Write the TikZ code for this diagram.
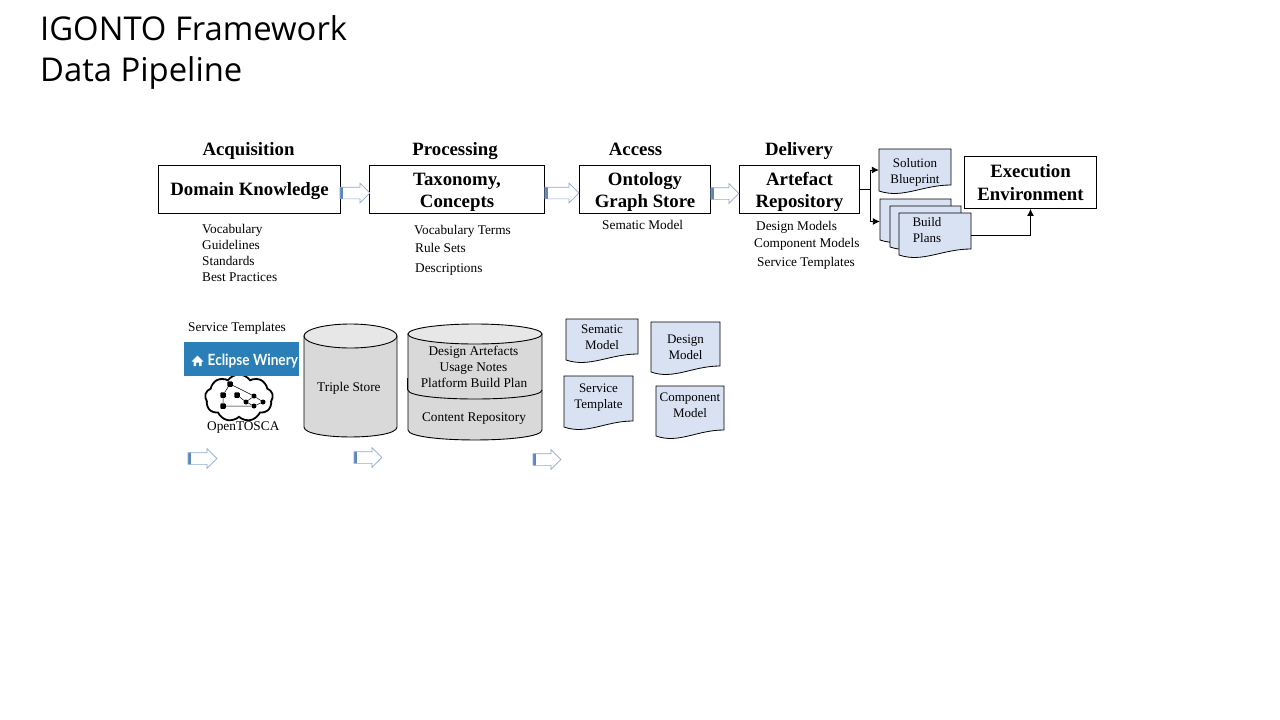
\documentclass[tikz,border=0pt]{standalone}
\usepackage{fontspec}
\setmainfont{Liberation Serif}
\newfontfamily\titlefont{Open Sans}
\newfontfamily\wineryfont{Lato}
\usetikzlibrary{shapes.arrows,shapes.symbols,arrows.meta}
\definecolor{docblue}{HTML}{D9E2F3}
\definecolor{arrowblue}{HTML}{5B87BF}
\definecolor{edgeblue}{HTML}{8FAACC}
\definecolor{storegray}{HTML}{D9D9D9}
\definecolor{storetop}{HTML}{E7E7E7}
\definecolor{winery}{HTML}{2A7FB8}
\tikzset{
  headtext/.style={anchor=base,inner sep=0pt,font=\fontsize{18.8}{22}\selectfont\bfseries},
  boxnode/.style={draw,line width=0.9pt,align=center,inner sep=0pt,font=\fontsize{18.8}{22.5}\selectfont\bfseries},
  notetext/.style={anchor=base west,inner sep=0pt,font=\fontsize{13.3}{16}\selectfont},
  storetext/.style={anchor=base,inner sep=0pt,font=\fontsize{13.3}{16}\selectfont},
  doctext/.style={align=center,inner sep=0pt,font=\fontsize{13}{16}\selectfont},
  blockarrow/.style={single arrow,draw=edgeblue,fill=white,line width=0.7pt,inner sep=0pt,
    text height=11pt,text depth=0pt,text width=0pt,
    minimum width=19pt,minimum height=30pt,single arrow head extend=4pt,single arrow head indent=0pt,
    path picture={\fill[arrowblue] (path picture bounding box.south west) rectangle ++(3.5pt,20pt);}},
  linkline/.style={line width=0.9pt,-{Latex[length=7pt,width=7pt]}},
  cloudsquare/.style={fill=black,rounded corners=1pt,minimum size=5.5pt,inner sep=0pt},
  clouddot/.style={circle,fill=black,minimum size=5pt,inner sep=0pt}
}
\newcommand{\toppad}{\rule{0pt}{18pt}}
% page with a wavy lower edge: text shift, name, left, top, width, height, text
\newcommand{\docpage}[7][]{
  \draw[fill=docblue,line width=0.8pt] (#3,#4) -- (#3+#5,#4) -- (#3+#5,#4+#6-6)
    .. controls (#3+0.6*#5,#4+#6-6) and (#3+0.33*#5,#4+#6+8) .. (#3,#4+#6) -- cycle;
  \node[minimum width=#5 pt,minimum height=#6 pt,inner sep=0pt] (#2) at (#3+0.5*#5,#4+0.5*#6) {};
  \node[doctext,#1] (#2label) at (#2) {#7};
}
% store: left, right, top centre, side end, flat radius
\newcommand{\storebody}[5]{
  \draw[fill=storegray,line width=0.9pt] (#1,#3) -- (#1,#4)
    .. controls (#1,#4+13.3) and (#2,#4+13.3) .. (#2,#4) -- (#2,#3) -- cycle;
  \draw[fill=storetop,line width=0.9pt] (#1/2+#2/2,#3) ellipse ({(#2-#1)/2} and #5);
}

\begin{document}
\begin{tikzpicture}[x=1pt,y=-1pt]
\useasboundingbox (0,0) rectangle (1280,720);

\node[anchor=west,inner sep=0pt,font=\titlefont\fontsize{32.8}{41}\selectfont,align=left] (title) at (40,52.5) {IGONTO Framework\\Data Pipeline};

% top row
\node[headtext] (acq) at (248.5,155) {Acquisition};
\node[headtext] (proc) at (455,155) {Processing};
\node[headtext] (acc) at (635.5,155) {Access};
\node[headtext] (deliv) at (799,155) {Delivery};

\node[boxnode,minimum width=182pt,minimum height=48pt] (domain) at (249.5,189) {\toppad Domain Knowledge};
\node[boxnode,minimum width=175pt,minimum height=48pt] (taxonomy) at (457,189.5) {\toppad Taxonomy,\\Concepts};
\node[boxnode,minimum width=131pt,minimum height=48pt] (ontology) at (645,189.5) {\toppad Ontology\\Graph Store};
\node[boxnode,minimum width=120pt,minimum height=48pt] (artefact) at (799.5,189.5) {\toppad Artefact\\Repository};
\node[boxnode,minimum width=132pt,minimum height=52pt] (exec) at (1030.5,182.5) {Execution\\Environment};

\node[blockarrow] (arrowa) at (352,193) {};
\node[blockarrow,minimum height=34pt] (arrowb) at (559,193) {};
\node[blockarrow,minimum height=28pt] (arrowc) at (722,193.5) {};

\node[notetext] (voc) at (202,233) {Vocabulary};
\node[notetext] (guide) at (202,249) {Guidelines};
\node[notetext] (stand) at (202,265) {Standards};
\node[notetext] (best) at (202,281) {Best Practices};
\node[notetext] (terms) at (414,234) {Vocabulary Terms};
\node[notetext] (rules) at (415,252) {Rule Sets};
\node[notetext] (descr) at (415,272) {Descriptions};
\node[notetext] (sem) at (602,229) {Sematic Model};
\node[notetext] (dmod) at (756,230) {Design Models};
\node[notetext] (cmod) at (754,247) {Component Models};
\node[notetext] (stemp) at (757,266) {Service Templates};

\docpage[yshift=-2pt]{blueprint}{879}{149}{72}{42}{Solution\\Blueprint}
\docpage{stacka}{880}{199}{71}{41}{}
\docpage{stackb}{890}{206}{71}{41}{}
\docpage[xshift=-8pt,yshift=4pt]{build}{899}{213}{72}{42}{Build\\Plans}

\coordinate (trunk) at (870,189.5);
\draw[line width=0.9pt] (artefact.east) -- (trunk);
\draw[linkline] (trunk) |- (blueprint.west);
\draw[linkline] (trunk) |- ([yshift=-2pt]stacka.west);
\draw[linkline] ([yshift=-1pt]build.east) -| (exec.south);

% bottom row
\node[notetext] (tmpl) at (188,331) {Service Templates};

\node[cloud,draw,line width=1.8pt,cloud puffs=9,cloud puff arc=110,aspect=1.6,minimum width=68pt,minimum height=47pt,inner sep=0pt] (cloudnet) at (239,398) {};
\node[cloudsquare] (sa) at (230,384) {};
\node[cloudsquare] (sb) at (223,395) {};
\node[cloudsquare] (sc) at (237,395) {};
\node[cloudsquare] (sd) at (223,406) {};
\node[clouddot] (da) at (246,402) {};
\node[clouddot] (db) at (254,396) {};
\node[clouddot] (dc) at (263,402) {};
\node[clouddot] (dd) at (254,406) {};
\draw[line width=0.5pt] (sa) -- (sb) -- (sd) -- (dd) -- (dc) -- (db) -- (da) -- (dd);
\draw[line width=0.5pt] (sa) -- (db);
\draw[line width=0.5pt] (sc) -- (da);

\node[fill=winery,minimum width=115pt,minimum height=34pt,inner sep=0pt] (banner) at (241.5,359) {};
\node[anchor=west,inner sep=0pt,text=white,font=\wineryfont\fontsize{15.5}{18}\selectfont\bfseries] (wname) at (207.5,361.5) {\scalebox{0.88}[1]{Eclipse Winery}};
\fill[white] (191.5,361.5) -- (197.5,355.5) -- (203.5,361.5) -- (201.5,361.5) -- (201.5,366) -- (199,366) -- (199,362.5) -- (196,362.5) -- (196,366) -- (193.5,366) -- (193.5,361.5) -- cycle;

\node[notetext] (tosca) at (207,430) {OpenTOSCA};

\storebody{304}{397}{336}{427}{12}
\node[notetext] (triple) at (317,391) {Triple Store};

\storebody{408}{542}{334}{430}{10}
\draw[line width=0.9pt] (408,390) .. controls (408,402) and (542,402) .. (542,390);
\draw[line width=1.4pt] (407.5,378) -- (407.5,390);
\node[storetext] (artefacts) at (473.5,355) {Design Artefacts};
\node[storetext] (usage) at (473.5,371) {Usage Notes};
\node[storetext] (platform) at (474,387) {Platform Build Plan};
\node[storetext] (content) at (474,421) {Content Repository};

\docpage[yshift=2pt]{sematic}{566}{319}{72}{41}{Sematic\\Model}
\docpage{design}{651}{322}{69}{50}{Design\\Model}
\docpage[yshift=4pt]{service}{564}{376}{69}{51}{Service\\Template}
\docpage[yshift=6pt]{component}{656}{386}{68}{50}{Component\\Model}

\node[blockarrow,minimum height=29pt] (arrowd) at (199.5,458.5) {};
\node[blockarrow,minimum height=28pt] (arrowe) at (365,457.5) {};
\node[blockarrow,minimum height=28pt] (arrowf) at (544,459.5) {};
\end{tikzpicture}
\end{document}
